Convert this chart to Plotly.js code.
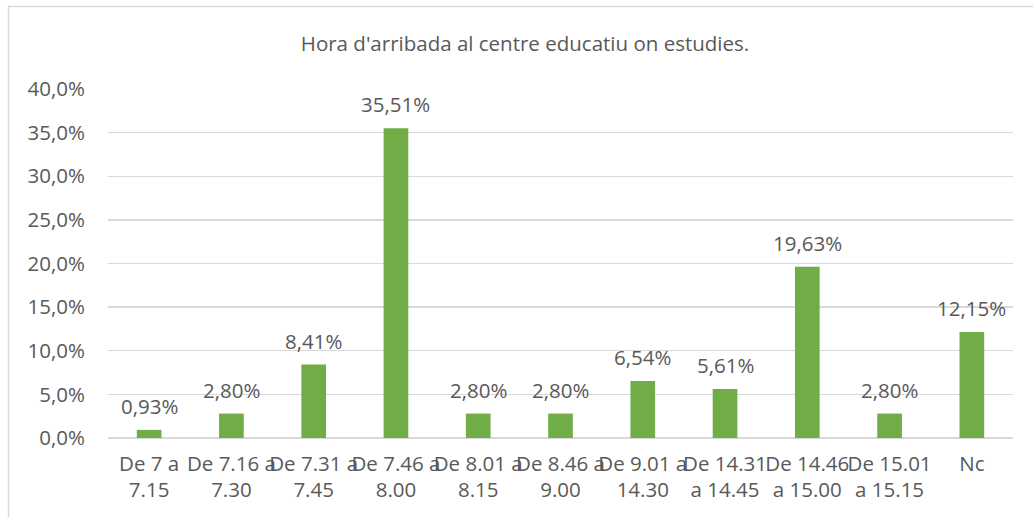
<!DOCTYPE html>
<html>
<head>
<meta charset="utf-8">
<script src="https://cdn.plot.ly/plotly-3.0.1.min.js"></script>
<style>html,body{margin:0;padding:0;background:#fff;}#chart{width:1033px;height:517px;}</style>
</head>
<body>
<div id="chart"></div>
<script>
var categories = ["De 7 a<br>7.15", "De 7.16 a<br>7.30", "De 7.31 a<br>7.45", "De 7.46 a<br>8.00", "De 8.01 a<br>8.15", "De 8.46 a<br>9.00", "De 9.01 a<br>14.30", "De 14.31<br>a 14.45", "De 14.46<br>a 15.00", "De 15.01<br>a 15.15", "Nc"];
var values = [0.0093, 0.0280, 0.0841, 0.3551, 0.0280, 0.0280, 0.0654, 0.0561, 0.1963, 0.0280, 0.1215];
var yTicks = [0, 0.05, 0.10, 0.15, 0.20, 0.25, 0.30, 0.35, 0.40];
var titleText = "Hora d'arribada al centre educatiu on estudies.";

var FONT = "'Open Sans', sans-serif";
var FS = 20.5;
var TXT = "#595959";

var annotations = categories.map(function(c, i){
  return {
    x: i, y: values[i], xref: 'x', yref: 'y',
    text: (values[i]*100).toFixed(2).replace('.', ',') + '%',
    showarrow: false, yanchor: 'bottom', yshift: 8,
    font: {family: FONT, size: FS, color: TXT}
  };
});

var data = [{
  type: 'bar',
  x: categories.map(function(c, i){ return i; }),
  y: values,
  marker: {color: '#70ad47'},
  hoverinfo: 'none'
}];

var layout = {
  width: 1033, height: 517,
  margin: {l: 108, r: 20, t: 89, b: 79},
  paper_bgcolor: '#ffffff', plot_bgcolor: '#ffffff',
  separators: ',.',
  bargap: 0.7,
  showlegend: false,
  font: {family: FONT, size: FS, color: TXT},
  title: {
    text: titleText, font: {family: FONT, size: FS, color: TXT},
    x: 525/1033, xref: 'container', xanchor: 'center',
    y: 1 - 44/517, yref: 'container', yanchor: 'middle'
  },
  xaxis: {
    tickmode: 'array',
    tickvals: categories.map(function(c, i){ return i; }),
    ticktext: categories,
    tickangle: 0,
    range: [-0.5, categories.length - 0.5],
    showgrid: false, zeroline: false,
    showline: false, ticks: '',
    ticklabelstandoff: 11,
    tickfont: {family: FONT, size: FS, color: TXT}
  },
  yaxis: {
    range: [0, 0.40],
    tickmode: 'array', tickvals: yTicks,
    tickformat: '.1%',
    showgrid: true, gridcolor: '#d9d9d9', gridwidth: 1.3,
    zeroline: true, zerolinecolor: '#d9d9d9', zerolinewidth: 1.3,
    showline: false, ticks: '',
    ticklabelstandoff: 22,
    tickfont: {family: FONT, size: FS, color: TXT}
  },
  annotations: annotations,
  shapes: [{
    type: 'rect', xref: 'paper', yref: 'paper',
    x0: (8.5 - 108)/905, x1: 1.2,
    y0: -0.6, y1: 1 + (89 - 6.5)/349,
    line: {color: '#d9d9d9', width: 1.5},
    fillcolor: 'rgba(0,0,0,0)', layer: 'below'
  }]
};

Plotly.newPlot('chart', data, layout, {displayModeBar: false, staticPlot: true});
</script>
</body>
</html>
